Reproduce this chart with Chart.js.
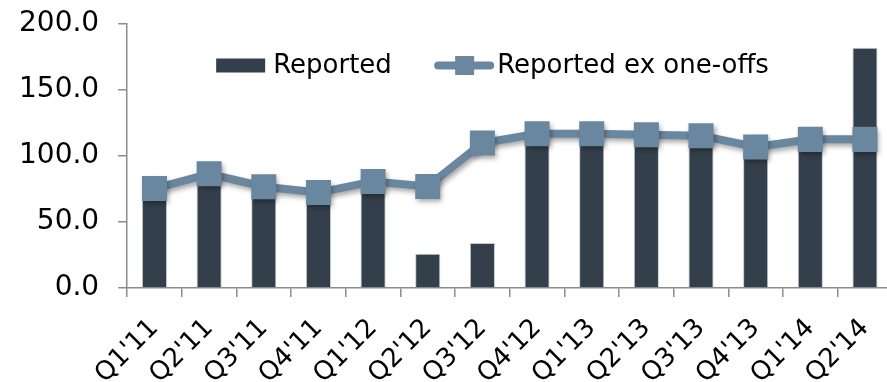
<!DOCTYPE html>
<html>
<head>
<meta charset="utf-8">
<script src="https://cdn.jsdelivr.net/npm/chart.js@4/dist/chart.umd.min.js"></script>
<style>
  html, body { margin: 0; padding: 0; overflow: hidden; background: #fff; }
  canvas { display: block; }
</style>
</head>
<body>
<canvas id="c" width="910" height="382"></canvas>
<script>
// Quarterly figures
const quarters = ["Q1'11","Q2'11","Q3'11","Q4'11","Q1'12","Q2'12","Q3'12","Q4'12","Q1'13","Q2'13","Q3'13","Q4'13","Q1'14","Q2'14"];
const reported = [70, 82, 72, 67, 75, 26, 34, 112, 112, 111, 110, 102, 108, 182];
const reportedExOneOffs = [75.3, 86.5, 76.7, 72.3, 80.6, 76.9, 109.8, 116.9, 116.9, 116.1, 115.4, 106.9, 112.6, 112.6];
const yTicks = [0, 50, 100, 150, 200];

const BAR_COLOR = '#333f4a';
const LINE_COLOR = '#6a87a0';
const AXIS_COLOR = '#8c8c8c';
const FONT = 'DejaVu Sans';

// Soft drop shadow under the line series
const lineShadow = {
  id: 'lineShadow',
  beforeDatasetDraw(chart, args) {
    if (args.meta.type !== 'line') return;
    const ctx = chart.ctx;
    ctx.save();
    ctx.shadowColor = 'rgba(0,0,0,0.35)';
    ctx.shadowBlur = 5;
    ctx.shadowOffsetX = 2;
    ctx.shadowOffsetY = 3;
  },
  afterDatasetDraw(chart, args) {
    if (args.meta.type !== 'line') return;
    chart.ctx.restore();
  }
};

// Legend drawn inside the plot area
const insideLegend = {
  id: 'insideLegend',
  afterDatasetsDraw(chart) {
    const ctx = chart.ctx;
    const area = chart.chartArea;
    const cy = 65.5;
    const ds = chart.data.datasets;
    ctx.save();
    ctx.font = '26px "' + FONT + '"';
    ctx.textBaseline = 'middle';
    ctx.textAlign = 'left';

    // bar item
    let x = area.left + 89;
    ctx.fillStyle = ds[1].backgroundColor;
    ctx.fillRect(x, cy - 7, 49, 14);
    ctx.fillStyle = '#000';
    ctx.fillText(ds[1].label, x + 57, cy + 1);

    // line item
    x = area.left + 307;
    ctx.strokeStyle = ds[0].borderColor;
    ctx.lineWidth = 8;
    ctx.lineCap = 'round';
    ctx.beginPath();
    ctx.moveTo(x + 4, cy);
    ctx.lineTo(x + 56, cy);
    ctx.stroke();
    ctx.fillStyle = ds[0].pointBackgroundColor;
    ctx.fillRect(x + 21, cy - 9.5, 19, 19);
    ctx.fillStyle = '#000';
    ctx.fillText(ds[0].label, x + 63, cy + 1);
    ctx.restore();
  }
};

new Chart(document.getElementById('c'), {
  data: {
    labels: quarters,
    datasets: [
      {
        type: 'line',
        label: 'Reported ex one-offs',
        data: reportedExOneOffs,
        order: 0,
        borderColor: LINE_COLOR,
        borderWidth: 8,
        pointStyle: 'rect',
        pointRadius: 17.7,
        pointBackgroundColor: LINE_COLOR,
        pointBorderColor: LINE_COLOR,
        pointBorderWidth: 0,
        tension: 0
      },
      {
        type: 'bar',
        label: 'Reported',
        data: reported,
        order: 1,
        backgroundColor: BAR_COLOR,
        borderColor: 'rgba(160,165,170,0.6)',
        borderWidth: 1,
        categoryPercentage: 1,
        barPercentage: 0.46
      }
    ]
  },
  options: {
    responsive: false,
    animation: false,
    layout: { padding: { left: 0, right: 13, top: 24, bottom: 0 } },
    plugins: {
      legend: { display: false },
      tooltip: { enabled: false }
    },
    scales: {
      x: {
        afterFit(scale) { scale.height = 94; },
        grid: { display: true, drawOnChartArea: false, offset: true, tickLength: 9, color: AXIS_COLOR, lineWidth: 1.5 },
        border: { color: AXIS_COLOR, width: 1.5 },
        ticks: {
          maxRotation: 45, minRotation: 45, padding: 16,
          color: '#000', font: { family: FONT, size: 26 }
        }
      },
      y: {
        min: 0, max: 200,
        afterBuildTicks(axis) { axis.ticks = yTicks.map(v => ({ value: v })); },
        grid: { display: true, drawOnChartArea: false, tickLength: 9, color: AXIS_COLOR, lineWidth: 1.5 },
        border: { color: AXIS_COLOR, width: 1.5 },
        ticks: {
          padding: 19, color: '#000',
          font: { family: FONT, size: 28, lineHeight: 0.3 },
          callback: v => Number(v).toFixed(1)
        }
      }
    }
  },
  plugins: [lineShadow, insideLegend]
});
</script>
</body>
</html>
